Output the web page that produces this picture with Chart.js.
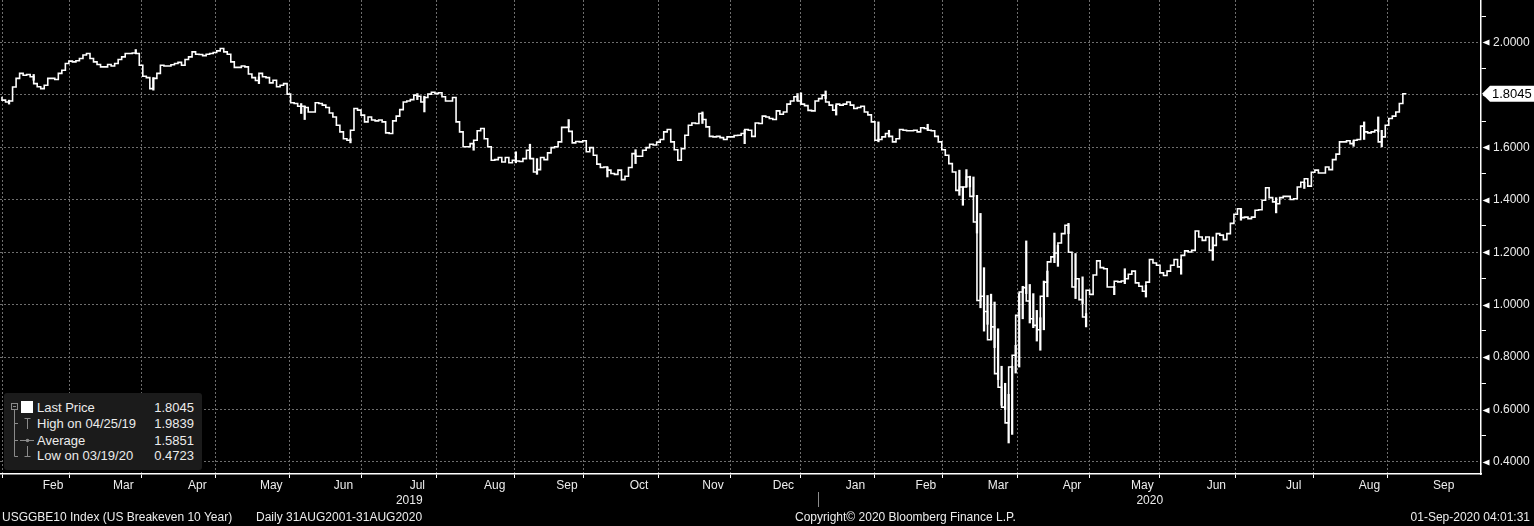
<!DOCTYPE html>
<html>
<head>
<meta charset="utf-8">
<script src="https://cdn.jsdelivr.net/npm/chart.js@4.4.1/dist/chart.umd.min.js"></script>
<style>
  html, body { margin: 0; padding: 0; background: #000; }
  #wrap { position: relative; width: 1534px; height: 526px; overflow: hidden; font-family: "Liberation Sans", Arial, sans-serif; color: #ececec; }
  #c { position: absolute; left: 0; top: 0; }
  .foot { position: absolute; top: 509px; font-size: 12px; line-height: 16px; white-space: pre; }
  #legend { position: absolute; left: 4px; top: 393px; width: 198px; height: 77px; background: #1b1b1b; border-radius: 3px; font-size: 13px; }
  #legend svg { position: absolute; left: 0; top: 0; }
  .row { position: absolute; left: 0; width: 198px; height: 16px; line-height: 16px; }
  .row .lab { position: absolute; left: 33px; }
  .row .val { position: absolute; right: 8px; }
</style>
</head>
<body>
<div id="wrap">
  <canvas id="c" width="1534" height="526"></canvas>
  <div id="legend">
    <svg width="32" height="77" viewBox="0 0 32 77">
      <g stroke="#8a8a8a" stroke-width="1" fill="none">
        <rect x="7.5" y="10.5" width="6" height="6"/>
        <line x1="9" y1="13.5" x2="12" y2="13.5"/>
        <line x1="10.5" y1="17" x2="10.5" y2="63.5"/>
        <line x1="10.5" y1="30.5" x2="14" y2="30.5"/>
        <line x1="10.5" y1="47.5" x2="14" y2="47.5"/>
        <line x1="10.5" y1="63.5" x2="14" y2="63.5"/>
        <line x1="20.5" y1="25.5" x2="26.5" y2="25.5"/>
        <line x1="23.5" y1="25.5" x2="23.5" y2="36"/>
        <line x1="16" y1="47.5" x2="30" y2="47.5"/>
        <line x1="23.5" y1="53" x2="23.5" y2="63.5"/>
        <line x1="20.5" y1="63.5" x2="26.5" y2="63.5"/>
      </g>
      <circle cx="23.5" cy="47.5" r="1.8" fill="#8a8a8a"/>
      <rect x="17" y="8" width="12" height="12" fill="#ffffff"/>
    </svg>
  </div>
  <div class="foot" style="left:2px">USGGBE10 Index (US Breakeven 10 Year)</div>
  <div class="foot" style="left:256px">Daily 31AUG2001-31AUG2020</div>
  <div class="foot" style="left:795px">Copyright© 2020 Bloomberg Finance L.P.</div>
  <div class="foot" style="right:4px">01-Sep-2020 04:01:31</div>
</div>
<script>
  // daily closes, one per trading day (late Jan 2019 .. 31 Aug 2020)
  const closes = [
    1.793,1.780,1.773,1.777,1.830,1.863,1.882,1.875,1.878,1.869,
    1.843,1.831,1.824,1.837,1.863,1.863,1.859,1.882,1.894,1.920,
    1.929,1.926,1.930,1.939,1.952,1.958,1.939,1.926,1.916,1.907,
    1.907,1.916,1.910,1.920,1.935,1.945,1.958,1.958,1.960,1.958,
    1.913,1.871,1.866,1.824,1.863,1.882,1.913,1.910,1.910,1.915,
    1.920,1.924,1.913,1.935,1.945,1.964,1.955,1.954,1.950,1.955,
    1.958,1.962,1.968,1.977,1.964,1.955,1.926,1.905,1.905,1.910,
    1.907,1.880,1.866,1.855,1.882,1.869,1.866,1.846,1.856,1.831,
    1.837,1.843,1.803,1.770,1.767,1.757,1.757,1.752,1.735,1.735,
    1.770,1.767,1.761,1.752,1.731,1.716,1.684,1.659,1.633,1.627,
    1.665,1.748,1.742,1.723,1.697,1.716,1.704,1.701,1.704,1.697,
    1.655,1.653,1.701,1.719,1.744,1.773,1.777,1.782,1.799,1.795,
    1.773,1.790,1.803,1.810,1.805,1.808,1.793,1.777,1.777,1.790,
    1.697,1.659,1.602,1.602,1.614,1.627,1.663,1.672,1.633,1.602,
    1.551,1.553,1.561,1.544,1.561,1.541,1.551,1.548,1.546,1.557,
    1.589,1.557,1.506,1.515,1.561,1.553,1.579,1.599,1.602,1.621,
    1.676,1.676,1.661,1.617,1.622,1.621,1.625,1.583,1.599,1.570,
    1.536,1.523,1.525,1.513,1.500,1.497,1.513,1.477,1.490,1.523,
    1.576,1.566,1.566,1.589,1.599,1.612,1.609,1.620,1.630,1.659,
    1.668,1.621,1.591,1.551,1.595,1.646,1.684,1.693,1.691,1.729,
    1.706,1.678,1.642,1.640,1.642,1.637,1.630,1.640,1.640,1.645,
    1.646,1.653,1.668,1.665,1.642,1.693,1.691,1.719,1.716,1.710,
    1.706,1.739,1.726,1.735,1.765,1.777,1.793,1.777,1.765,1.759,
    1.741,1.739,1.777,1.786,1.799,1.773,1.761,1.742,1.765,1.761,
    1.765,1.773,1.761,1.748,1.752,1.757,1.735,1.724,1.697,1.627,
    1.630,1.640,1.653,1.642,1.621,1.633,1.668,1.665,1.663,1.663,
    1.665,1.659,1.675,1.672,1.665,1.663,1.642,1.621,1.591,1.570,
    1.538,1.506,1.436,1.449,1.449,1.487,1.413,1.315,1.016,1.032,
    0.974,0.866,0.915,0.737,0.685,0.609,0.549,0.762,0.807,0.959,
    1.048,1.065,1.014,0.946,0.921,0.904,1.032,1.086,1.163,1.182,
    1.197,1.235,1.271,1.303,1.200,1.067,1.099,1.019,0.953,1.055,
    1.039,1.113,1.167,1.141,1.137,1.067,1.067,1.089,1.087,1.090,
    1.099,1.116,1.128,1.083,1.070,1.051,1.086,1.172,1.159,1.150,
    1.121,1.111,1.128,1.150,1.172,1.144,1.188,1.205,1.201,1.207,
    1.281,1.258,1.245,1.258,1.207,1.226,1.271,1.265,1.248,1.271,
    1.310,1.345,1.366,1.332,1.334,1.328,1.334,1.360,1.362,1.398,
    1.446,1.408,1.392,1.385,1.408,1.413,1.413,1.401,1.404,1.449,
    1.467,1.480,1.452,1.505,1.513,1.502,1.502,1.525,1.515,1.553,
    1.574,1.621,1.621,1.625,1.614,1.627,1.630,1.681,1.659,1.655,
    1.659,1.665,1.621,1.640,1.684,1.710,1.719,1.735,1.767,1.8045
  ];

  // [day, low, high] where the daily range reaches past the step
  const wicks = [
    [2,1.765,1.780],[9,1.856,1.878],[38,1.958,1.973],[43,1.818,1.866],[73,1.843,1.869],
    [85,1.729,1.767],[86,1.706,1.757],[99,1.617,1.633],[118,1.782,1.805],[120,1.735,1.795],
    [134,1.589,1.614],[146,1.541,1.583],[150,1.557,1.612],[152,1.497,1.557],[161,1.676,1.706],
    [172,1.487,1.525],[180,1.538,1.591],[199,1.691,1.735],[211,1.614,1.665],[226,1.777,1.805],
    [227,1.765,1.808],[234,1.786,1.815],[237,1.723,1.761],[249,1.621,1.697],[252,1.640,1.665],
    [263,1.665,1.688],[272,1.417,1.513],[273,1.379,1.449],[274,1.449,1.515],[275,1.449,1.490],
    [276,1.413,1.487],[277,1.273,1.417],[278,0.988,1.348],[279,0.899,1.141],[280,0.925,1.035],
    [281,0.866,1.040],[282,0.836,1.010],[283,0.714,0.908],[284,0.616,0.765],[285,0.600,0.700],
    [286,0.4723,0.658],[287,0.505,0.765],[288,0.739,0.845],[289,0.762,1.042],[290,0.946,1.070],
    [291,1.042,1.243],[292,0.930,1.077],[293,0.912,1.042],[294,0.861,0.978],[295,0.826,0.950],
    [296,0.904,1.090],[297,1.030,1.128],[299,1.160,1.273],[300,1.146,1.226],[303,1.271,1.310],
    [305,1.023,1.195],[307,1.004,1.106],[308,0.915,0.966],[316,1.038,1.070],[319,1.080,1.137],
    [325,1.029,1.074],[335,1.116,1.172],[344,1.169,1.258],[352,1.322,1.366],[362,1.350,1.408],
    [370,1.443,1.467],[384,1.604,1.625],[387,1.630,1.697],[391,1.659,1.716],[392,1.602,1.665]
  ];

  const monthNames = ['Feb','Mar','Apr','May','Jun','Jul','Aug','Sep','Oct','Nov','Dec',
                      'Jan','Feb','Mar','Apr','May','Jun','Jul','Aug','Sep'];
  // trading-day index where each month begins
  const monthStarts = [5,24,45,66,87,107,129,151,170,192,212,232,253,272,294,314,334,356,378,399];
  const years = ['2019','2020'];
  const yTicks = [0.4,0.5,0.6,0.7,0.8,0.9,1.0,1.1,1.2,1.3,1.4,1.5,1.6,1.7,1.8,1.9,2.0,2.1];
  const lastPrice = 1.8045;
  const statLabels = ['Last Price','High on 04/25/19','Average','Low on 03/19/20'];
  const statValues = ['1.8045','1.9839','1.5851','0.4723'];

  // legend rows
  (function(){
    const lg = document.getElementById('legend');
    const tops = [7, 23, 39.5, 55];
    statLabels.forEach((t, k) => {
      const r = document.createElement('div');
      r.className = 'row';
      r.style.top = tops[k] + 'px';
      r.innerHTML = `<span class="lab">${t}</span><span class="val">${statValues[k]}</span>`;
      lg.appendChild(r);
    });
  })();

  const isMajor = v => Math.round(v * 10) % 2 === 0;
  const GRID = '#6e6e6e';

  // triangles on the price axis + last price flag
  const axisMarks = {
    id: 'axisMarks',
    afterDraw(chart) {
      const { ctx, scales: { y } } = chart;
      const x0 = y.left;
      ctx.save();
      ctx.fillStyle = '#ffffff';
      y.ticks.forEach(t => {
        if (!isMajor(t.value)) return;
        const py = Math.round(y.getPixelForValue(t.value)) + 0.5;
        ctx.beginPath();
        ctx.moveTo(x0 + 1.5, py);
        ctx.lineTo(x0 + 8.5, py - 3);
        ctx.lineTo(x0 + 8.5, py + 3);
        ctx.closePath();
        ctx.fill();
      });
      const py = y.getPixelForValue(lastPrice);
      ctx.beginPath();
      ctx.moveTo(x0 + 1, py);
      ctx.lineTo(x0 + 9, py - 8);
      ctx.lineTo(chart.width, py - 8);
      ctx.lineTo(chart.width, py + 8);
      ctx.lineTo(x0 + 9, py + 8);
      ctx.closePath();
      ctx.fill();
      ctx.fillStyle = '#000000';
      ctx.font = '13px "Liberation Sans", Arial, sans-serif';
      ctx.textBaseline = 'middle';
      ctx.fillText(lastPrice.toFixed(4), x0 + 11, py + 0.5);
      ctx.restore();
    }
  };

  Chart.defaults.font.family = '"Liberation Sans", Arial, sans-serif';
  Chart.defaults.font.size = 12;
  Chart.defaults.color = '#ececec';

  new Chart(document.getElementById('c').getContext('2d'), {
    type: 'line',
    data: {
      datasets: [
        {
          type: 'line',
          data: closes.map((v, i) => ({ x: i, y: v })),
          borderColor: '#ffffff',
          borderWidth: 1.6,
          pointRadius: 0,
          stepped: 'after',
          order: 1
        },
        {
          type: 'bar',
          data: wicks.map(w => ({ x: w[0], y: [w[1], w[2]] })),
          backgroundColor: '#ffffff',
          borderWidth: 0,
          barThickness: 1.6,
          order: 2
        }
      ]
    },
    options: {
      responsive: false,
      animation: false,
      events: [],
      layout: { padding: { left: 0, right: 0, top: 0, bottom: 16 } },
      plugins: { legend: { display: false }, tooltip: { enabled: false } },
      scales: {
        x: {
          type: 'linear',
          position: 'bottom',
          min: -0.57,
          max: 420.2,
          offset: false,
          weight: 0,
          afterBuildTicks: s => {
            const t = [];
            monthStarts.forEach((m, k) => {
              const next = k + 1 < monthStarts.length ? monthStarts[k + 1] : s.max;
              t.push({ value: m });
              t.push({ value: (m + next) / 2 });
            });
            s.ticks = t;
          },
          afterFit: s => { s.height = 18; s.paddingLeft = 0; s.paddingRight = 0; },
          ticks: {
            autoSkip: false,
            maxRotation: 0,
            padding: 0,
            color: '#ececec',
            callback: (v, i) => (i % 2 === 1 ? monthNames[(i - 1) / 2] : '')
          },
          grid: {
            color: c => (c.index % 2 === 0 ? GRID : 'transparent'),
            tickColor: c => (c.index % 2 === 0 ? '#ffffff' : 'transparent'),
            tickLength: 4,
            tickBorderDash: [],
            lineWidth: 1
          },
          border: { display: true, color: '#ffffff', width: 1.5, dash: [2, 2] }
        },
        year: {
          type: 'linear',
          position: 'bottom',
          min: -0.57,
          max: 420.2,
          offset: false,
          weight: 1,
          afterBuildTicks: s => {
            const yb = monthStarts[monthNames.indexOf('Jan')];
            s.ticks = [{ value: (s.min + yb) / 2 }, { value: yb }, { value: (yb + s.max) / 2 }];
          },
          afterFit: s => { s.height = 18; s.paddingLeft = 0; s.paddingRight = 0; },
          ticks: {
            autoSkip: false,
            maxRotation: 0,
            padding: -14,
            color: '#ececec',
            callback: (v, i) => (i === 0 ? years[0] : i === 2 ? years[1] : '')
          },
          grid: {
            drawOnChartArea: false,
            tickLength: 15,
            tickColor: c => (c.index === 1 ? '#8c8c8c' : 'transparent'),
            tickBorderDash: []
          },
          border: { display: false }
        },
        y: {
          type: 'linear',
          position: 'right',
          min: 0.354,
          max: 2.162,
          afterBuildTicks: s => { s.ticks = yTicks.map(v => ({ value: v })); },
          afterFit: s => { s.width = 53; s.paddingTop = 0; s.paddingBottom = 0; },
          ticks: {
            autoSkip: false,
            padding: 7,
            color: '#ececec',
            callback: v => (isMajor(v) ? v.toFixed(4) : '')
          },
          grid: {
            color: c => (c.tick && isMajor(c.tick.value) ? GRID : 'transparent'),
            tickColor: c => (c.tick && isMajor(c.tick.value) ? 'transparent' : '#ffffff'),
            tickLength: 5,
            tickBorderDash: []
          },
          border: { display: true, color: '#ffffff', width: 1.5, dash: [2, 2] }
        }
      }
    },
    plugins: [axisMarks]
  });
</script>
</body>
</html>
